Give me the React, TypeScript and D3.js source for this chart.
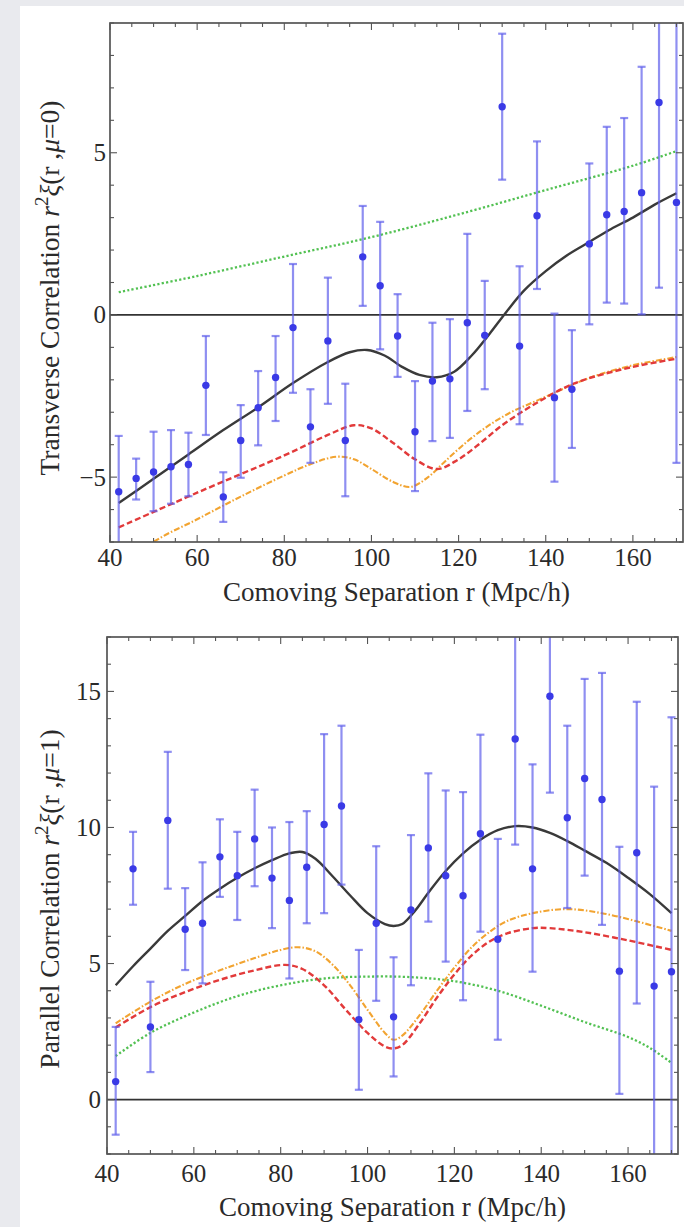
import React from "react";
import * as d3 from "d3";

// ---------- data ----------
const rBins = [42, 46, 50, 54, 58, 62, 66, 70, 74, 78, 82, 86, 90, 94, 98, 102, 106, 110, 114, 118, 122, 126, 130, 134, 138, 142, 146, 150, 154, 158, 162, 166, 170];

// Transverse (mu = 0)
const transVal = [-5.45, -5.04, -4.84, -4.68, -4.61, -2.17, -5.61, -3.87, -2.86, -1.93, -0.39, -3.45, -0.8, -3.87, 1.79, 0.9, -0.65, -3.6, -2.04, -1.97, -0.24, -0.63, 6.42, -0.96, 3.06, -2.55, -2.29, 2.19, 3.09, 3.19, 3.77, 6.55, 3.47];
const transHi = [-3.73, -4.43, -3.6, -3.55, -3.63, -0.65, -4.85, -2.78, -1.73, -0.65, 1.57, -2.29, 1.15, -2.12, 3.36, 2.87, 0.64, -2.04, -0.24, -0.13, 2.5, 1.05, 8.67, 1.5, 5.35, 0.04, -0.47, 4.67, 5.8, 6.07, 7.65, 9.8, 9.8];
const transLo = [-7.3, -5.69, -6.05, -5.82, -5.59, -3.7, -6.38, -5.02, -4.02, -3.27, -2.4, -4.56, -2.74, -5.59, 0.28, -1.06, -1.91, -5.43, -3.89, -3.79, -2.96, -2.29, 4.17, -3.37, 0.8, -5.14, -4.1, -0.29, 0.38, 0.35, 0.02, 0.84, -4.56];

const transBlackR = [42, 50, 58, 66, 74, 82, 90, 95, 99, 103, 107, 111, 115, 119, 123, 127, 131, 135, 140, 145, 150, 155, 160, 165, 170];
const transBlackV = [-5.8, -5.05, -4.3, -3.55, -2.85, -2.1, -1.45, -1.15, -1.08, -1.25, -1.6, -1.85, -1.92, -1.75, -1.25, -0.6, 0.1, 0.75, 1.35, 1.85, 2.25, 2.65, 3.0, 3.4, 3.75];
const transGreenR = [42, 60, 80, 100, 120, 140, 160, 170];
const transGreenV = [0.7, 1.2, 1.8, 2.4, 3.1, 3.85, 4.6, 5.05];
const transRedR = [42, 60, 80, 90, 96, 100, 105, 110, 115, 120, 125, 130, 135, 140, 145, 150, 160, 170];
const transRedV = [-6.55, -5.48, -4.33, -3.7, -3.4, -3.5, -3.95, -4.45, -4.75, -4.45, -3.95, -3.4, -2.95, -2.55, -2.2, -1.95, -1.6, -1.35];
const transOrangeR = [42, 50, 60, 70, 80, 86, 92, 96, 100, 105, 109, 113, 117, 122, 127, 132, 137, 142, 147, 152, 160, 170];
const transOrangeV = [-7.9, -7.0, -6.3, -5.6, -4.95, -4.6, -4.37, -4.45, -4.75, -5.15, -5.3, -5.0, -4.5, -3.9, -3.4, -3.0, -2.7, -2.4, -2.1, -1.85, -1.55, -1.3];

// Parallel (mu = 1)
const parVal = [0.66, 8.48, 2.67, 10.26, 6.26, 6.48, 8.92, 8.23, 9.58, 8.14, 7.32, 8.54, 10.11, 10.79, 2.94, 6.48, 3.04, 6.97, 9.25, 8.23, 7.49, 9.77, 5.89, 13.25, 8.48, 14.82, 10.36, 11.8, 11.03, 4.72, 9.07, 4.17, 4.7];
const parHi = [2.67, 9.84, 4.33, 12.78, 7.77, 8.72, 10.3, 9.84, 11.39, 10.0, 10.2, 10.6, 13.43, 13.74, 5.5, 9.31, 5.23, 9.72, 11.99, 11.36, 11.3, 13.41, 9.58, 17.5, 12.32, 18.5, 13.74, 15.46, 15.68, 9.29, 14.62, 11.5, 14.05];
const parLo = [-1.29, 7.16, 1.01, 7.75, 4.76, 4.27, 7.45, 6.6, 7.84, 6.3, 4.45, 6.48, 6.85, 7.9, 0.36, 3.63, 0.85, 4.2, 6.54, 5.07, 3.65, 6.17, 2.2, 9.37, 4.7, 11.28, 7.04, 8.23, 6.42, 0.21, 3.53, -3.2, -4.6];

const parBlackR = [42, 46, 50, 54, 58, 62, 66, 70, 74, 78, 82, 85, 88, 92, 96, 100, 104, 106, 108, 111, 114, 118, 122, 126, 130, 134, 138, 142, 146, 150, 155, 160, 165, 170];
const parBlackV = [4.2, 4.9, 5.55, 6.2, 6.75, 7.3, 7.75, 8.15, 8.5, 8.8, 9.05, 9.1, 8.85, 8.2, 7.5, 6.85, 6.45, 6.38, 6.45, 6.95, 7.6, 8.4, 9.05, 9.55, 9.9, 10.05, 10.0, 9.8, 9.5, 9.15, 8.7, 8.15, 7.55, 6.85];
const parGreenR = [42, 50, 60, 70, 80, 90, 100, 110, 120, 130, 140, 150, 160, 165, 170];
const parGreenV = [1.6, 2.45, 3.2, 3.8, 4.2, 4.45, 4.52, 4.5, 4.35, 4.0, 3.45, 2.85, 2.3, 1.9, 1.35];
const parRedR = [42, 50, 58, 66, 74, 81, 85, 90, 95, 100, 104, 106, 108, 112, 116, 120, 124, 128, 132, 138, 142, 150, 160, 170];
const parRedV = [2.65, 3.4, 3.95, 4.4, 4.75, 4.95, 4.8, 4.2, 3.3, 2.45, 1.95, 1.88, 2.0, 2.8, 3.75, 4.6, 5.3, 5.8, 6.1, 6.3, 6.3, 6.15, 5.85, 5.5];
const parOrangeR = [42, 50, 58, 66, 74, 80, 84, 88, 92, 96, 100, 104, 106, 108, 112, 116, 120, 124, 128, 132, 138, 146, 154, 162, 170];
const parOrangeV = [2.8, 3.6, 4.25, 4.75, 5.2, 5.5, 5.6, 5.45, 4.95, 4.2, 3.3, 2.45, 2.2, 2.35, 3.1, 4.0, 4.85, 5.6, 6.15, 6.55, 6.85, 7.0, 6.85, 6.55, 6.2];

const xTicks = [40, 60, 80, 100, 120, 140, 160];
const transYTicks = [-5, 0, 5];
const parYTicks = [0, 5, 10, 15];
const xTitle = "Comoving Separation r (Mpc/h)";

// ---------- styles ----------
const FONT = "'Liberation Serif', 'Times New Roman', serif";
const FRAME = "#555";
const BAR = "rgba(95,95,235,0.7)";
const DOT = "#3a3ae6";
const BLACK = "#3a3a3a";
const GREEN = "#52c152";
const RED = "#e23a3a";
const ORANGE = "#f2a431";
const TXT = "#2a2a2a";

type PanelProps = {
  id: string;
  xr: [number, number];
  xd: [number, number];
  yr: [number, number];
  yd: [number, number];
  yTicks: number[];
  vals: number[];
  his: number[];
  los: number[];
  curves: { r: number[]; v: number[]; color: string; dash: string; width: number }[];
  yLabelEnd: number;
  xLabelY: number;
  xTitleY: number;
  yTitleX: number;
  yTitleY: number;
  yTitleMu: string;
};

function Panel(p: PanelProps) {
  const x = d3.scaleLinear().domain(p.xd).range(p.xr);
  const y = d3.scaleLinear().domain(p.yd).range(p.yr);
  const [x0, x1] = p.xr;
  const [y0, y1] = p.yr; // y0 bottom, y1 top
  const line = d3
    .line<[number, number]>()
    .x((d) => x(d[0]))
    .y((d) => y(d[1]))
    .curve(d3.curveCatmullRom.alpha(0.5));

  const xMinor = d3.range(40, p.xd[1] + 0.01, 5);
  const yMinor = d3.range(Math.ceil(p.yd[0]), p.yd[1] + 0.01, 1);

  return (
    <g>
      <defs>
        <clipPath id={p.id}>
          <rect x={x0} y={y1} width={x1 - x0} height={y0 - y1} />
        </clipPath>
      </defs>
      {/* zero line */}
      <line x1={x0} x2={x1} y1={y(0)} y2={y(0)} stroke="#333" strokeWidth={1.7} />
      <g clipPath={`url(#${p.id})`}>
        {p.curves.map((c, i) => (
          <path
            key={i}
            d={line(c.r.map((r, j) => [r, c.v[j]] as [number, number])) || ""}
            fill="none"
            stroke={c.color}
            strokeWidth={c.width}
            strokeDasharray={c.dash}
          />
        ))}
        {rBins.map((r, i) => (
          <g key={i}>
            <line x1={x(r)} x2={x(r)} y1={y(p.his[i])} y2={y(p.los[i])} stroke={BAR} strokeWidth={2.2} />
            <line x1={x(r) - 4} x2={x(r) + 4} y1={y(p.his[i])} y2={y(p.his[i])} stroke={BAR} strokeWidth={2.2} />
            <line x1={x(r) - 4} x2={x(r) + 4} y1={y(p.los[i])} y2={y(p.los[i])} stroke={BAR} strokeWidth={2.2} />
            <circle cx={x(r)} cy={y(p.vals[i])} r={3.7} fill={DOT} />
          </g>
        ))}
      </g>
      {/* ticks */}
      {xMinor.map((t) => {
        const major = t % 20 === 0;
        const L = major ? 7 : 4;
        return (
          <g key={"xt" + t}>
            <line x1={x(t)} x2={x(t)} y1={y0} y2={y0 - L} stroke={FRAME} strokeWidth={1.1} />
            <line x1={x(t)} x2={x(t)} y1={y1} y2={y1 + L} stroke={FRAME} strokeWidth={1.1} />
          </g>
        );
      })}
      {yMinor.map((t) => {
        const major = t % 5 === 0;
        const L = major ? 7 : 4;
        return (
          <g key={"yt" + t}>
            <line x1={x0} x2={x0 + L} y1={y(t)} y2={y(t)} stroke={FRAME} strokeWidth={1.1} />
            <line x1={x1} x2={x1 - L} y1={y(t)} y2={y(t)} stroke={FRAME} strokeWidth={1.1} />
          </g>
        );
      })}
      {/* frame */}
      <rect x={x0} y={y1} width={x1 - x0} height={y0 - y1} fill="none" stroke={FRAME} strokeWidth={1.7} />
      {/* tick labels */}
      {xTicks.map((t) => (
        <text key={"xl" + t} x={x(t)} y={p.xLabelY} textAnchor="middle" fontFamily={FONT} fontSize={25} fill={TXT}>
          {t}
        </text>
      ))}
      {p.yTicks.map((t) => (
        <text key={"yl" + t} x={p.yLabelEnd} y={y(t) + 8.5} textAnchor="end" fontFamily={FONT} fontSize={25} fill={TXT}>
          {t < 0 ? "\u2212" + Math.abs(t) : t}
        </text>
      ))}
      <text x={(x0 + x1) / 2} y={p.xTitleY} textAnchor="middle" fontFamily={FONT} fontSize={27} fill={TXT}>
        {xTitle}
      </text>
      <text
        transform={`translate(${p.yTitleX},${p.yTitleY}) rotate(-90)`}
        textAnchor="middle"
        fontFamily={FONT}
        fontSize={27.5}
        fill={TXT}
      >
        {p.yTitleMu === "0" ? "Transverse Correlation " : "Parallel Correlation "}
        <tspan fontStyle="italic">r</tspan>
        <tspan fontSize={19} dy={-11}>2</tspan>
        <tspan dy={11} fontStyle="italic">ξ</tspan>
        <tspan>(r ,</tspan>
        <tspan fontStyle="italic">μ</tspan>
        <tspan>{"=" + p.yTitleMu + ")"}</tspan>
      </text>
    </g>
  );
}

export default function App() {
  return (
    <svg width={684} height={1227} style={{ position: "absolute", left: 0, top: 0 }}>
      <rect x={0} y={0} width={684} height={1227} fill="#e9eaee" />
      <rect x={20} y={6} width={664} height={1221} fill="#ffffff" />
      <Panel
        id="clipTop"
        xr={[110, 683]}
        xd={[40, 171.5]}
        yr={[542, 23]}
        yd={[-7, 9]}
        yTicks={transYTicks}
        vals={transVal}
        his={transHi}
        los={transLo}
        curves={[
          { r: transGreenR, v: transGreenV, color: GREEN, dash: "2.2,2.2", width: 2.3 },
          { r: transOrangeR, v: transOrangeV, color: ORANGE, dash: "6,2,1.5,2", width: 2.1 },
          { r: transRedR, v: transRedV, color: RED, dash: "6,3", width: 2.4 },
          { r: transBlackR, v: transBlackV, color: BLACK, dash: "", width: 2.4 },
        ]}
        yLabelEnd={106}
        xLabelY={566}
        xTitleY={601}
        yTitleX={59}
        yTitleY={288}
        yTitleMu="0"
      />
      <Panel
        id="clipBot"
        xr={[107, 678]}
        xd={[40, 171.5]}
        yr={[1154, 637]}
        yd={[-2, 17]}
        yTicks={parYTicks}
        vals={parVal}
        his={parHi}
        los={parLo}
        curves={[
          { r: parGreenR, v: parGreenV, color: GREEN, dash: "2.2,2.2", width: 2.3 },
          { r: parOrangeR, v: parOrangeV, color: ORANGE, dash: "6,2,1.5,2", width: 2.1 },
          { r: parRedR, v: parRedV, color: RED, dash: "6,3", width: 2.4 },
          { r: parBlackR, v: parBlackV, color: BLACK, dash: "", width: 2.4 },
        ]}
        yLabelEnd={101}
        xLabelY={1182}
        xTitleY={1216}
        yTitleX={59}
        yTitleY={899}
        yTitleMu="1"
      />
    </svg>
  );
}
